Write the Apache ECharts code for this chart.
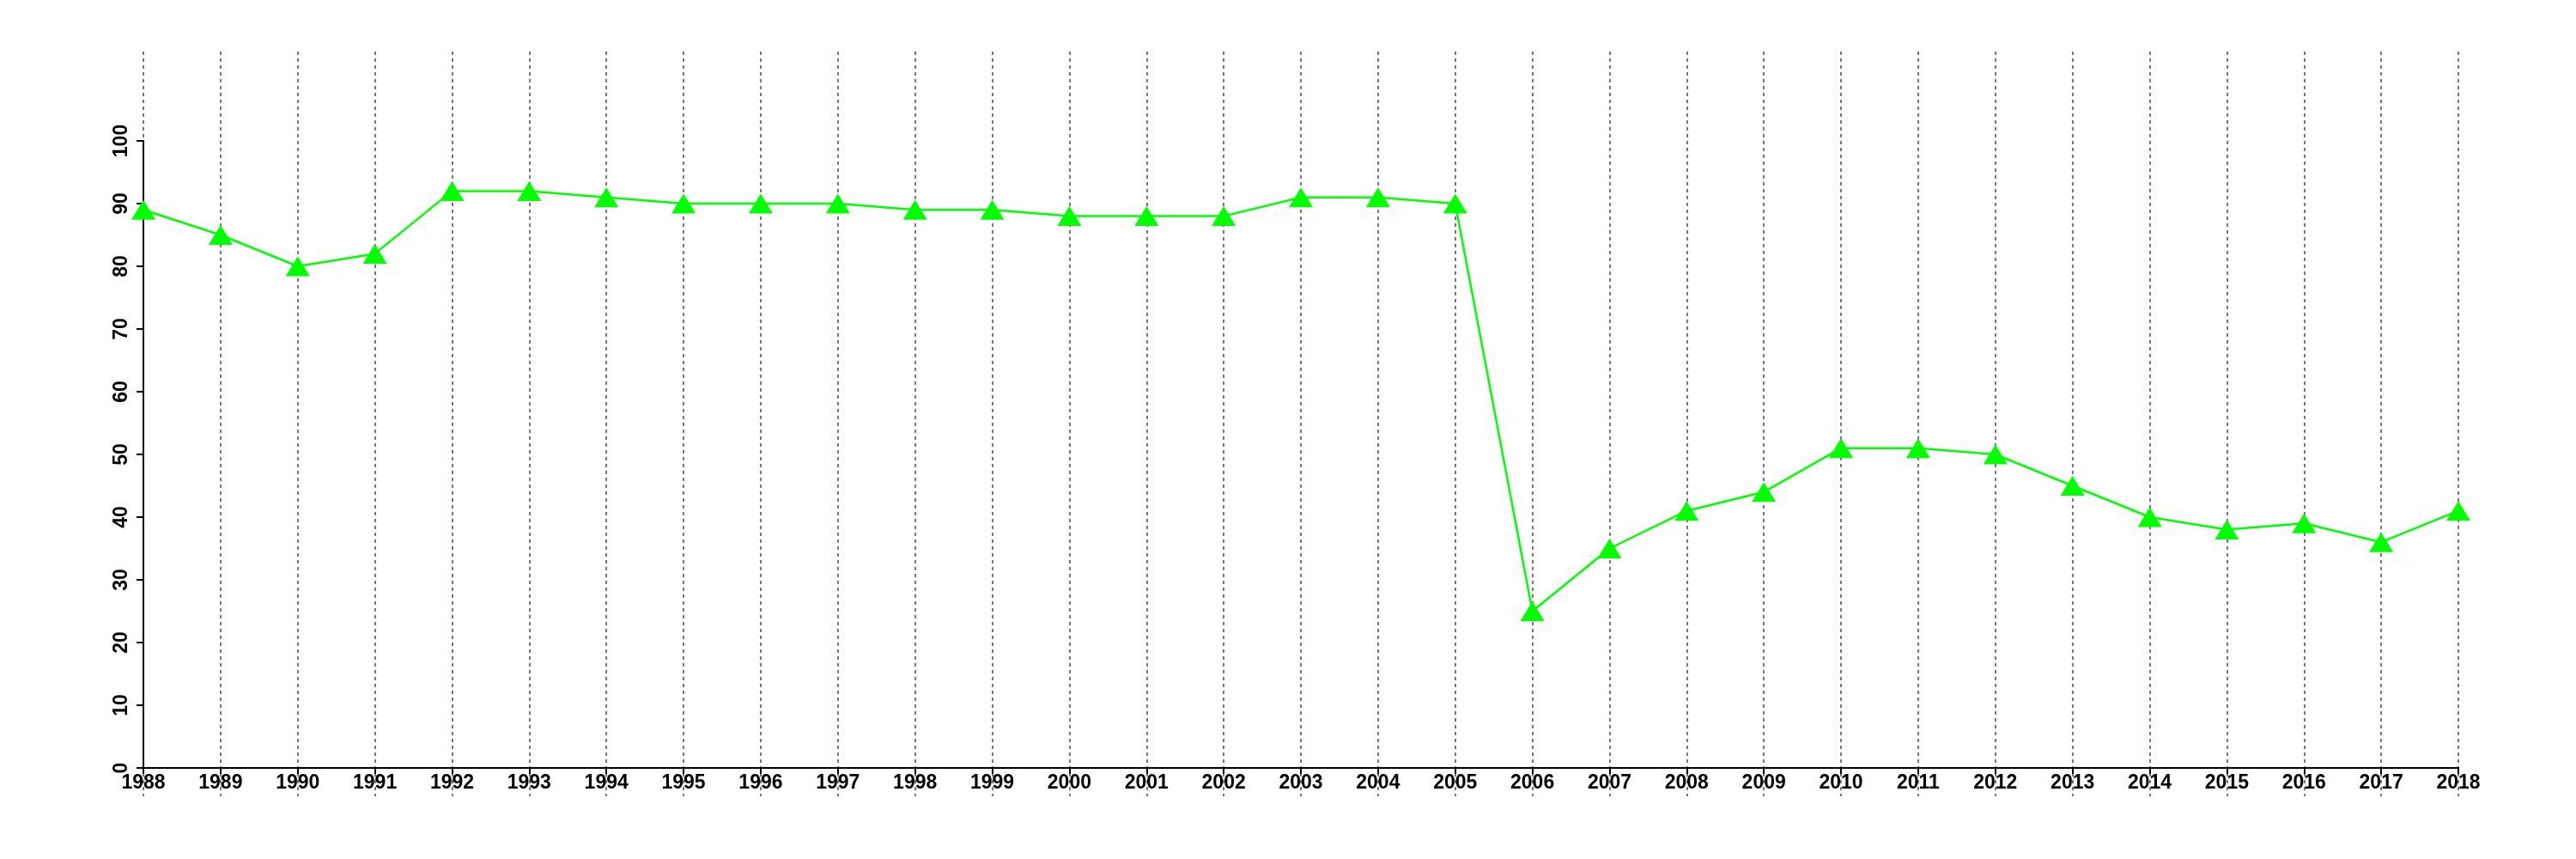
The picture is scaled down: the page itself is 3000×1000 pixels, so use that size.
<!DOCTYPE html>
<html>
<head>
<meta charset="utf-8">
<script src="https://cdn.jsdelivr.net/npm/echarts@6/dist/echarts.min.js"></script>
<style>
html,body{margin:0;padding:0;background:#fff;}
#chart{width:3000px;height:1000px;}
</style>
</head>
<body>
<div id="chart"></div>
<script>
const years = ['1988','1989','1990','1991','1992','1993','1994','1995','1996','1997','1998','1999','2000','2001','2002','2003','2004','2005','2006','2007','2008','2009','2010','2011','2012','2013','2014','2015','2016','2017','2018'];
const values = [89,85,80,82,92,92,91,90,90,90,89,89,88,88,88,91,91,90,25,35,41,44,51,51,50,45,40,38,39,36,41];
const yTicks = [0,10,20,30,40,50,60,70,80,90,100];

const FONT = '"Liberation Sans", Arial, Helvetica, sans-serif';
const chart = echarts.init(document.getElementById('chart'));
chart.setOption({
  animation: false,
  backgroundColor: '#ffffff',
  grid: [
    {left: 167, right: 137, top: 164, bottom: 106, containLabel: false},
    {left: 167, right: 137, top: 60, bottom: 73, containLabel: false}
  ],
  xAxis: [
    {
      type: 'category', gridIndex: 0, data: years, boundaryGap: false,
      axisLine: {show: true, lineStyle: {color: '#000', width: 2}},
      axisTick: {show: true, alignWithLabel: true, length: 7, lineStyle: {color: '#000', width: 2}},
      axisLabel: {show: true, interval: 0, margin: 6, color: '#000', fontSize: 23, fontWeight: 'bold', fontFamily: FONT},
      splitLine: {show: false}
    },
    {
      type: 'category', gridIndex: 1, data: years, boundaryGap: false,
      axisLine: {show: false}, axisTick: {show: false}, axisLabel: {show: false},
      splitLine: {show: true, interval: 0, lineStyle: {color: '#777', width: 2, type: [4, 4]}}
    }
  ],
  yAxis: [
    {
      type: 'value', gridIndex: 0, min: 0, max: 100, interval: 10,
      axisLine: {show: true, lineStyle: {color: '#000', width: 2}},
      axisTick: {show: true, length: 8, lineStyle: {color: '#000', width: 2}},
      axisLabel: {show: true, rotate: 90, margin: 14, color: '#000', fontSize: 23, fontWeight: 'bold', fontFamily: FONT,
        formatter: function (v) { return yTicks.indexOf(v) >= 0 ? String(v) : ''; }},
      splitLine: {show: false}
    },
    {
      type: 'value', gridIndex: 1, min: 0, max: 1, show: false, splitLine: {show: false}
    }
  ],
  series: [
    {
      type: 'line', xAxisIndex: 0, yAxisIndex: 0, data: values,
      symbol: 'triangle', symbolSize: [28, 23], showAllSymbol: true,
      lineStyle: {color: '#00ff00', width: 2.5},
      itemStyle: {color: '#00ff00', borderWidth: 0},
      z: 5
    }
  ]
});
</script>
</body>
</html>
